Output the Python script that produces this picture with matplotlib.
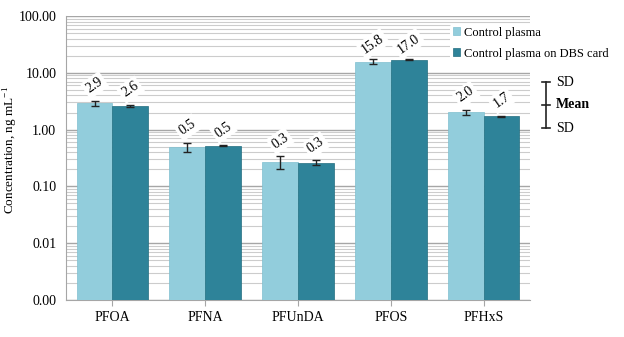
import matplotlib
matplotlib.use("Agg")
import matplotlib.pyplot as plt
import numpy as np
from matplotlib.ticker import FixedLocator, FuncFormatter, LogLocator, NullFormatter

plt.rcParams['font.family'] = ['Liberation Serif', 'DejaVu Serif']
plt.rcParams['mathtext.fontset'] = 'custom'
plt.rcParams['mathtext.rm'] = 'Liberation Serif'

categories = ["PFOA", "PFNA", "PFUnDA", "PFOS", "PFHxS"]
plasma = [2.9, 0.5, 0.27, 15.8, 2.0]
plasma_sd = [0.35, 0.09, 0.07, 1.5, 0.22]
dbs = [2.6, 0.52, 0.26, 17.0, 1.7]
dbs_sd = [0.12, 0.015, 0.025, 0.4, 0.06]
plasma_labels = ["2.9", "0.5", "0.3", "15.8", "2.0"]
dbs_labels = ["2.6", "0.5", "0.3", "17.0", "1.7"]
series_names = ["Control plasma", "Control plasma on DBS card"]

light = "#92CDDC"
dark = "#2E8399"

fig = plt.figure(figsize=(6.24, 3.37), dpi=100)
ax = fig.add_axes([66/624, 1 - 300/337, (530-66)/624, (300-16)/337])

x = np.arange(len(categories))
w = 0.385
b1 = ax.bar(x - w/2, plasma, w, color=light, edgecolor="#7FBFCF", linewidth=0.5,
            yerr=plasma_sd, capsize=3, error_kw=dict(elinewidth=1, ecolor="#222222", capthick=1),
            label=series_names[0], zorder=3, bottom=0.001)
b2 = ax.bar(x + w/2, dbs, w, color=dark, edgecolor="#226e80", linewidth=0.5,
            yerr=dbs_sd, capsize=3, error_kw=dict(elinewidth=1, ecolor="#222222", capthick=1),
            label=series_names[1], zorder=3, bottom=0.001)

ax.set_yscale("log")
ax.set_ylim(0.001, 100)
ax.set_xlim(-0.5, len(categories) - 0.5)
ax.yaxis.set_major_locator(FixedLocator([0.001, 0.01, 0.1, 1, 10, 100]))
ax.yaxis.set_major_formatter(FuncFormatter(lambda v, p: f"{v:.2f}"))
ax.yaxis.set_minor_locator(LogLocator(base=10, subs=np.arange(2, 10)))
ax.yaxis.set_minor_formatter(NullFormatter())
ax.grid(axis="y", which="major", color="#A6A6A6", linewidth=1.0, zorder=0)
ax.grid(axis="y", which="minor", color="#CCCCCC", linewidth=0.8, zorder=0)
ax.tick_params(axis="y", which="both", length=0, labelsize=10, pad=7)
ax.set_xticks(x)
ax.set_xticklabels(categories)
ax.tick_params(axis="x", length=4, color="#A6A6A6", labelsize=10, pad=4)
for s in ["top", "right"]:
    ax.spines[s].set_visible(False)
ax.spines["left"].set_color("#A6A6A6")
ax.spines["bottom"].set_color("#A6A6A6")
ax.set_ylabel("Concentration, ng mL$^{\\mathrm{-1}}$", fontsize=9.5)
ax.yaxis.set_label_coords(-0.100, 0.53)

for i in range(len(categories)):
    for xv, v, sd, lab in [(x[i] - w/2, plasma[i], plasma_sd[i], plasma_labels[i]),
                           (x[i] + w/2, dbs[i], dbs_sd[i], dbs_labels[i])]:
        ax.annotate(lab, (xv, v + sd), xytext=(0, 11), textcoords="offset points",
                    ha="center", va="center", rotation=35, fontsize=10, zorder=5,
                    bbox=dict(boxstyle="square,pad=0.2", fc="white", ec="none"))

leg = fig.legend(handles=[b1, b2], labels=series_names, loc="upper left",
                 bbox_to_anchor=(444/624, 1 - 18/337), frameon=True, fontsize=9,
                 handlelength=0.6, handleheight=0.6, handletextpad=0.3, labelspacing=0.7,
                 borderpad=0.2, edgecolor="none", facecolor="white", framealpha=1)

# SD / Mean key
xk = 546/624
y_top = 1 - 82/337
y_mid = 1 - 105/337
y_bot = 1 - 128/337
fig.add_artist(plt.Line2D([xk, xk], [y_bot, y_top], color="#222222", lw=1.2, transform=fig.transFigure))
for yy in [y_top, y_bot, y_mid]:
    fig.add_artist(plt.Line2D([xk - 4/624, xk + 4/624], [yy, yy], color="#222222", lw=1.2, transform=fig.transFigure))
fig.text(556/624, y_top, "SD", fontsize=10, va="center", ha="left")
fig.text(556/624, y_mid, "Mean", fontsize=10, va="center", ha="left", fontweight="bold")
fig.text(556/624, y_bot, "SD", fontsize=10, va="center", ha="left")

fig.savefig("out.png", dpi=100)
